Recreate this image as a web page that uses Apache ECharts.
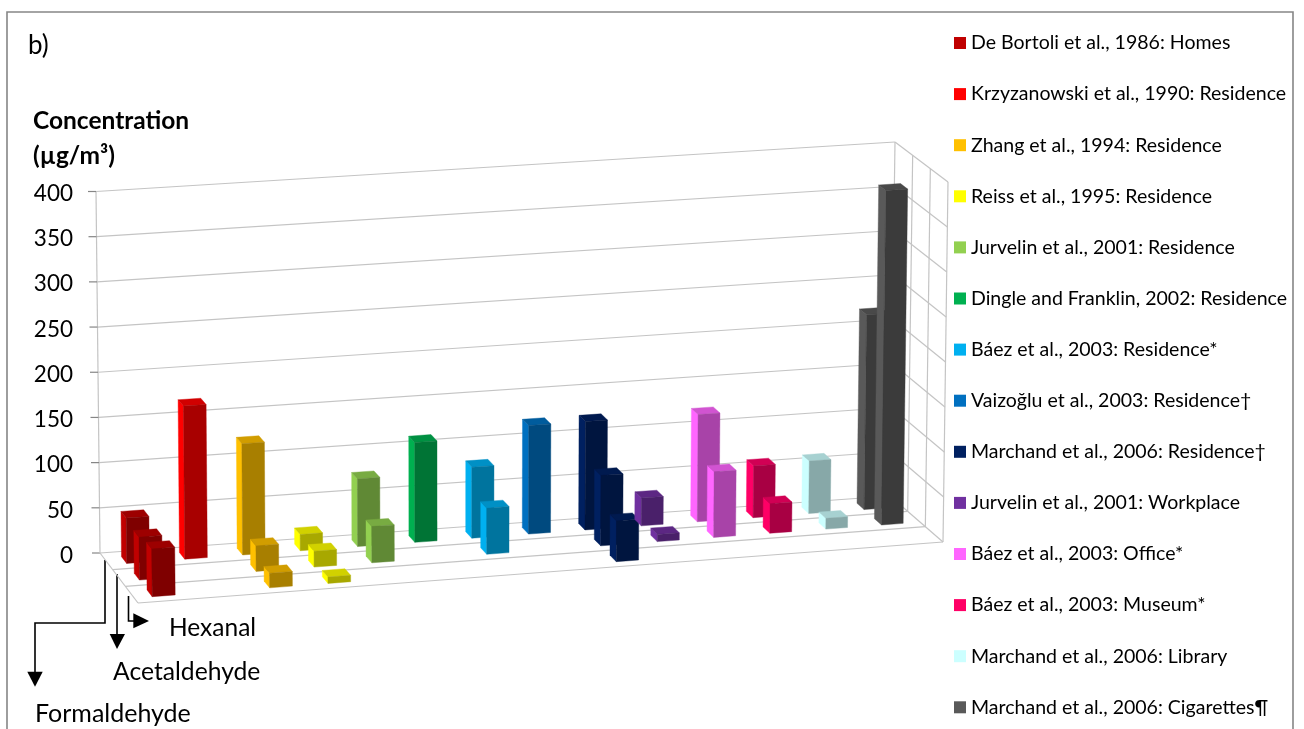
<!DOCTYPE html>
<html>
<head>
<meta charset="utf-8">
<style>html,body{margin:0;padding:0;background:#fff}#chart{width:1304px;height:729px}</style>
<script src="https://cdn.jsdelivr.net/npm/echarts@6/dist/echarts.min.js"></script>
</head>
<body>
<div id="chart"></div>
<script>
// Indoor aldehyde concentrations by study (µg/m³), drawn as a 3D-style column chart.
const studies = [
  'De Bortoli et al., 1986: Homes',
  'Krzyzanowski et al., 1990: Residence',
  'Zhang et al., 1994: Residence',
  'Reiss et al., 1995: Residence',
  'Jurvelin et al., 2001: Residence',
  'Dingle and Franklin, 2002: Residence',
  'Báez et al., 2003: Residence*',
  'Vaizoğlu et al., 2003: Residence†',
  'Marchand et al., 2006: Residence†',
  'Jurvelin et al., 2001: Workplace',
  'Báez et al., 2003: Office*',
  'Báez et al., 2003: Museum*',
  'Marchand et al., 2006: Library',
  'Marchand et al., 2006: Cigarettes¶'
];
const colors = ['#C00000','#FF0000','#FFC000','#FFFF00','#92D050','#00B050','#00B0F0',
                '#0070C0','#002060','#7030A0','#FF66FF','#FF0066','#CCFFFF','#595959'];
const formaldehyde = [50, 169, 123, 18, 75, 111, 79, 121, 121, 31, 120, 58, 59, 219];
const acetaldehyde = [47, null, 28, 17.5, 40, null, 51, null, 78, 8, 73, 33, 12, 374];
const hexanal      = [52, null, 16, 7, null, null, null, null, 45, null, null, null, null, null];
const rows = [formaldehyde, acetaldehyde, hexanal];
const valueTicks = [0, 50, 100, 150, 200, 250, 300, 350, 400];
const FONT = 'Lato, "Open Sans", sans-serif';

// Corners of the plot box on screen, as [x, y], named by side: left/right, back/front, bottom/top.
const box = {
  LBb: [100, 553], LBt: [96, 191.5], RBb: [890, 496], RBt: [895, 142],
  LFb: [138, 603], LFt: [134, 235],  RFb: [943, 542], RFt: [948, 182]
};
const lerp = (a, b, k) => [a[0] + (b[0] - a[0]) * k, a[1] + (b[1] - a[1]) * k];
// Trilinear projection: u along studies, w along rows, t up the value range (all 0..1).
function project(u, w, t) {
  const bottom = lerp(lerp(box.LBb, box.RBb, u), lerp(box.LFb, box.RFb, u), w);
  const top = lerp(lerp(box.LBt, box.RBt, u), lerp(box.LFt, box.RFt, u), w);
  return lerp(bottom, top, t);
}
// Foreshortening along the study axis: columns sit slightly further right mid-way.
const foreshorten = u => u + 0.028 * u * (1 - u);
// Normalised positions derived from the cartesian axes.
function axisFractions(api, studyPos, value) {
  const o = api.coord([0, 0]), e = api.coord([studies.length, 400]), p = api.coord([studyPos, value]);
  return [(p[0] - o[0]) / (e[0] - o[0]), (p[1] - o[1]) / (e[1] - o[1])];
}
function shade(hex, k) {
  const n = parseInt(hex.slice(1), 16);
  const c = [n >> 16, (n >> 8) & 255, n & 255].map(v => Math.round(v * k));
  return 'rgb(' + c.join(',') + ')';
}

const BAR_U = 0.39, BAR_W = 0.135, ROWS = rows.length;
function renderBar(color) {
  return function (params, api) {
    const pos = api.value(0), row = api.value(1), val = api.value(2);
    const uL = foreshorten(axisFractions(api, pos + 0.5 - BAR_U / 2, 0)[0]);
    const uR = foreshorten(axisFractions(api, pos + 0.5 + BAR_U / 2, 0)[0]);
    const [, t] = axisFractions(api, 0, val);
    const wMid = (row + 0.5) / ROWS, wB = wMid - BAR_W / 2, wF = wMid + BAR_W / 2;
    const face = (pts, fill) => ({ type: 'polygon', shape: { points: pts },
      style: { fill: fill, stroke: fill, lineWidth: 0.4 } });
    return { type: 'group', children: [
      face([project(uL, wB, 0), project(uL, wF, 0), project(uL, wF, t), project(uL, wB, t)], color),
      face([project(uL, wB, t), project(uL, wF, t), project(uR, wF, t), project(uR, wB, t)], shade(color, 0.82)),
      face([project(uL, wF, 0), project(uR, wF, 0), project(uR, wF, t), project(uL, wF, t)], shade(color, 0.66))
    ]};
  };
}

// Back wall, right wall and floor rules.
function renderWalls(params, api) {
  const v = api.value(0);
  const [, t] = axisFractions(api, 0, v);
  const line = (a, b) => ({ type: 'line', shape: { x1: a[0], y1: a[1], x2: b[0], y2: b[1] },
    style: { stroke: '#c4c4c4', lineWidth: 1.2 } });
  const kids = [
    line(project(0, 0, t), project(1, 0, t)),
    line(project(1, 0, t), project(1, 1, t))
  ];
  const tick = project(0, 0, t);
  kids.push({ type: 'line', shape: { x1: tick[0] - 8, y1: tick[1], x2: tick[0], y2: tick[1] },
    style: { stroke: '#868686', lineWidth: 1.2 } });
  if (v === 0) {
    kids.push(line(project(0, 0, 0), project(0, 1, 0)));
    kids.push(line(project(0, 0, 0), project(0, 0, 1)));
    [1, 2, 3].forEach(n => {
      const w = n / 3;
      kids.push(line(project(0, w, 0), project(1, w, 0)));
      kids.push(line(project(1, w, 0), project(1, w, 1)));
    });
    kids.push(line(project(1, 0, 0), project(1, 0, 1)));
  }
  return { type: 'group', children: kids };
}

const series = [{
  type: 'custom', name: 'walls', silent: true, z: 1,
  coordinateSystem: 'cartesian2d',
  encode: { y: 0 },
  renderItem: renderWalls,
  data: valueTicks.map(v => [v])
}];
studies.forEach((name, i) => {
  const data = [];
  rows.forEach((row, r) => { if (row[i] !== null) data.push([i, r, row[i]]); });
  series.push({
    type: 'custom', name: name, z: 2, coordinateSystem: 'cartesian2d',
    itemStyle: { color: colors[i] },
    encode: { x: 0, y: 2 },
    renderItem: renderBar(colors[i]),
    data: data
  });
});

const label = (text, x, y, size, weight) => ({
  type: 'text', x: x, y: y, silent: true,
  style: { text: text, fill: '#000', font: (weight || 'normal') + ' ' + size + 'px ' + FONT, verticalAlign: 'middle' }
});
const wire = pts => ({ type: 'polyline', shape: { points: pts }, silent: true,
  style: { stroke: '#000', lineWidth: 1.6, fill: null } });
const head = pts => ({ type: 'polygon', shape: { points: pts }, silent: true, style: { fill: '#000' } });

const option = {
  animation: false,
  backgroundColor: '#fff',
  grid: { left: 100, top: 193.5, width: 790, height: 362 },
  xAxis: { type: 'value', min: 0, max: studies.length, show: false },
  yAxis: {
    type: 'value', min: 0, max: 400, interval: 50,
    axisLine: { show: false }, axisTick: { show: false }, splitLine: { show: false },
    axisLabel: { color: '#000', fontFamily: FONT, fontSize: 22.5, margin: 27 }
  },
  legend: {
    orient: 'vertical', left: 954, top: 33, padding: 0,
    data: studies, icon: 'rect', itemWidth: 12, itemHeight: 12, itemGap: 31.1,
    selectedMode: false,
    textStyle: { color: '#000', fontFamily: FONT, fontSize: 19.55, lineHeight: 20 }
  },
  graphic: { elements: [
    { type: 'polyline', silent: true, shape: { points: [[7, 740], [7, 12], [1293, 12], [1293, 740]] },
      style: { stroke: '#868686', lineWidth: 1.6, fill: null } },
    label('b)', 28, 46, 26),
    label('Concentration', 33, 121, 24.5, 'bold'),
    label('(µg/m³)', 33, 156, 24.5, 'bold'),
    wire([[105, 560], [105, 623], [35, 623], [35, 673]]),
    head([[27.3, 671.7], [42.7, 671.7], [35, 686.7]]),
    wire([[117, 574], [117, 635]]),
    head([[109.7, 634], [125, 634], [117, 649]]),
    wire([[128.5, 596], [128.5, 621], [134, 621]]),
    head([[133.3, 613.3], [133.3, 628.3], [149, 621]]),
    label('Hexanal', 169, 628, 24.5),
    label('Acetaldehyde', 113, 672, 24.7),
    label('Formaldehyde', 35, 714, 25)
  ]},
  series: series
};
echarts.init(document.getElementById('chart'), null, { renderer: 'canvas' }).setOption(option);
</script>
</body>
</html>
